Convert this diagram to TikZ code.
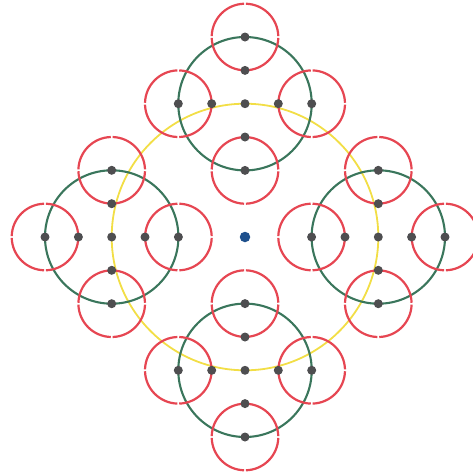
\documentclass[tikz,border=0pt]{standalone}
\usetikzlibrary{calc}
\begin{document}
\begin{tikzpicture}[x=1pt,y=-1pt,
  redc/.style={draw={rgb,255:red,230;green,70;blue,82},line width=2.2pt},
  greenc/.style={draw={rgb,255:red,58;green,118;blue,92},line width=2.1pt},
  yellowc/.style={draw={rgb,255:red,242;green,222;blue,70},line width=1.8pt},
  dotn/.style={circle,fill={rgb,255:red,78;green,78;blue,80},inner sep=0pt,minimum size=9pt},
  bluen/.style={circle,fill={rgb,255:red,30;green,80;blue,140},inner sep=0pt,minimum size=10.5pt}]
\useasboundingbox (0,0) rectangle (473,475);
\def\R{133.3}\def\G{66.7}\def\r{33.3}
\coordinate (O) at (245,237);
\draw[yellowc] (O) circle (\R);
\foreach \a in {0,90,180,270}{
  \draw[greenc] ($(O)+(\a:\R)$) circle (\G);
}
\foreach \a in {0,90,180,270}{
  \foreach \b in {0,90,180,270}{
    \coordinate (c) at ($(O)+(\a:\R)+(\b:\G)$);
    \foreach \s in {0,90,180,270}{
      \draw[redc] ($(c)+(\s+1.6:\r)$) arc[start angle=\s+1.6,end angle=\s+88.4,radius=\r];
    }
  }
}
\foreach \a [count=\i] in {0,90,180,270}{
  \node[dotn] (g\i) at ($(O)+(\a:\R)$) {};
  \foreach \b [count=\j] in {0,90,180,270}{
    \node[dotn] (h\i\j) at ($(O)+(\a:\R)+(\b:\r)$) {};
    \node[dotn] (k\i\j) at ($(O)+(\a:\R)+(\b:\G)$) {};
  }
}
\node[bluen] (ctr) at (O) {};
\end{tikzpicture}
\end{document}
